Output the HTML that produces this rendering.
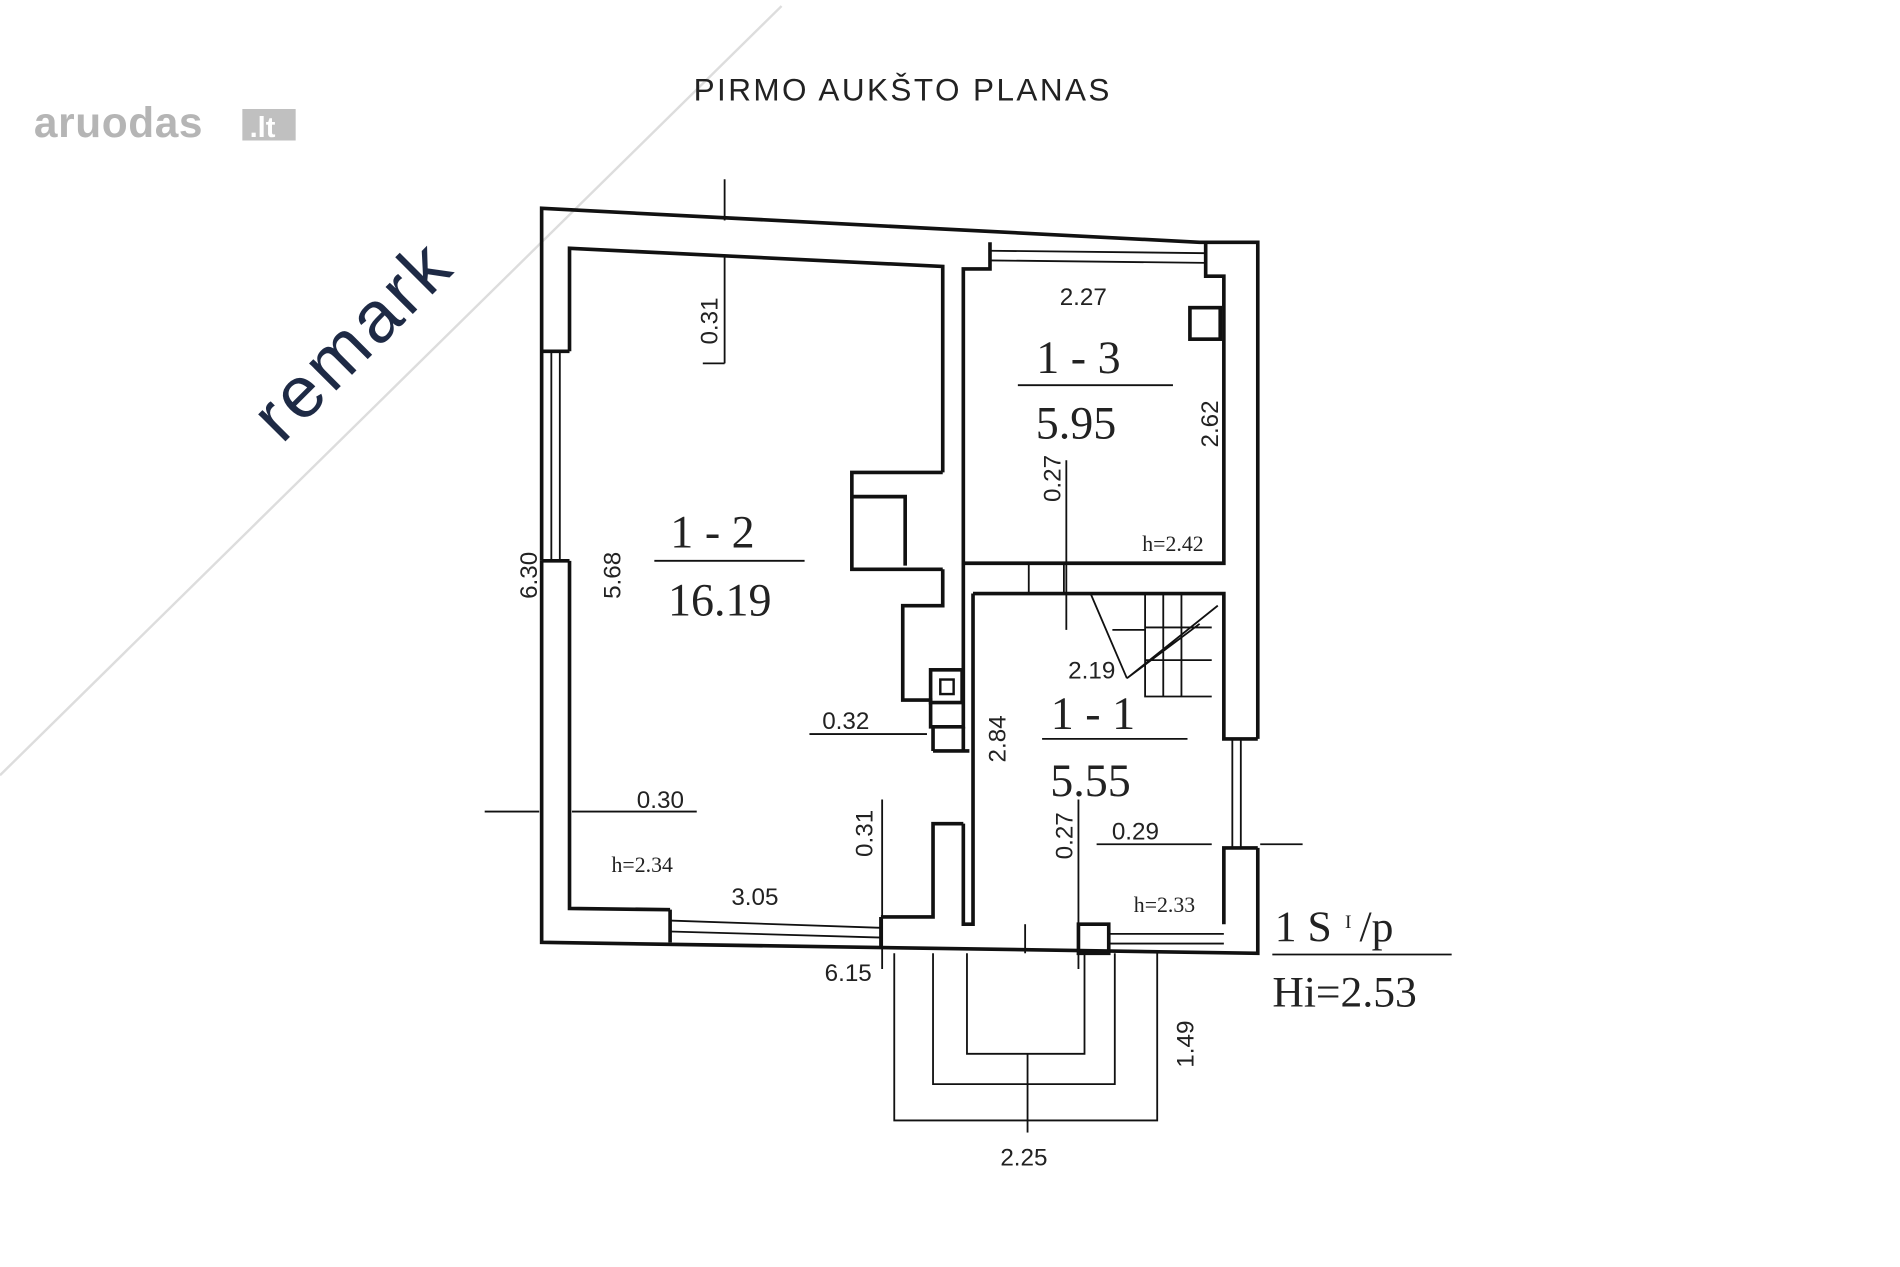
<!DOCTYPE html>
<html><head><meta charset="utf-8"><style>html,body{margin:0;padding:0;background:#fff}svg{display:block}</style></head>
<body>
<svg width="1900" height="1267" viewBox="0 0 1568 1046" preserveAspectRatio="none" xmlns="http://www.w3.org/2000/svg">
<rect width="1568" height="1046" fill="#fff"/>
<line x1="645" y1="5" x2="0" y2="640" stroke="#ddd" stroke-width="2"/>
<text x="28" y="113" font-family="Liberation Sans, sans-serif" font-size="35" font-weight="bold" letter-spacing="0.5" fill="#b5b5b5">aruodas</text>
<rect x="200" y="90" width="44" height="26" fill="#c0c0c0"/>
<text x="206" y="113" font-family="Liberation Sans, sans-serif" font-size="24" font-weight="bold" fill="#fff">.lt</text>
<text x="305" y="295" transform="rotate(-45 305 295)" text-anchor="middle" font-family="Liberation Sans, sans-serif" font-size="60" letter-spacing="3" fill="#1e2a45">remark</text>
<text x="745" y="83" text-anchor="middle" font-family="Liberation Sans, sans-serif" font-size="26" letter-spacing="2" fill="#222">PIRMO AUKŠTO PLANAS</text>
<g fill="none" stroke="#111" stroke-width="3">
<path d="M447 463 L447 172 L990 200 L1038 200 L1038 610"/>
<path d="M1038 700 L1038 787 L447 778 L447 463"/>
<path d="M470 290 L470 205 L778 220 L778 390"/>
<path d="M470 463 L470 750 L553 751"/>
<path d="M727 757 L770 757 L770 680 L795 680"/>
<path d="M447 290 L470 290 M447 463 L470 463" />
<g stroke-width="1.5"><line x1="455" y1="290" x2="455" y2="463"/><line x1="462" y1="290" x2="462" y2="463"/></g>
<path d="M553 751 L553 778 M727 757 L727 782"/>
<g stroke-width="1.5"><line x1="553" y1="760" x2="727" y2="766"/><line x1="553" y1="769" x2="727" y2="774"/></g>
<path d="M817 200 L817 222 L795 222 L795 465 L1010 465 L1010 228 L995 228 L995 200"/>
<g stroke-width="1.5"><line x1="817" y1="207" x2="995" y2="209"/><line x1="817" y1="215" x2="995" y2="217"/></g>
<rect x="982" y="254" width="25" height="26"/>
<path d="M795 465 L795 490 M803 490 L1010 490 L1010 610 L1038 610 M1010 700 L1038 700 L1010 700 L1010 763"/>
<g stroke-width="1.5"><line x1="1017" y1="610" x2="1017" y2="700"/><line x1="1024" y1="610" x2="1024" y2="700"/><line x1="849" y1="465" x2="849" y2="490"/><line x1="878" y1="465" x2="878" y2="490"/></g>
<path d="M778 390 L703 390 L703 470 L778 470 M703 410 L747 410 L747 467"/>
<path d="M778 470 L778 500 L745 500 L745 578 L768 578 L768 600 L795 600 L795 490"/>
<rect x="768" y="553" width="26" height="27"/>
<rect x="776" y="561" width="11" height="12" stroke-width="2"/>
<line x1="795" y1="600" x2="795" y2="620"/><line x1="770" y1="620" x2="800" y2="620"/>
<line x1="770" y1="600" x2="770" y2="620"/>
<g stroke-width="1.5"><path d="M900 490 L930 560 M945 490 L945 575 L1000 575 M960 490 L960 575 M975 490 L975 575 M945 518 L1000 518 M945 545 L1000 545 M930 560 L1005 500 M930 560 L990 515 M918 520 L945 520"/></g>
<path d="M795 680 L795 763 L803 763 L803 490"/>
<path d="M890 763 L915 763 L915 787 L890 787 Z"/>
<g stroke-width="1.5"><line x1="915" y1="771" x2="1010" y2="771"/><line x1="915" y1="779" x2="1010" y2="779"/><line x1="846" y1="763" x2="846" y2="787"/></g>
<g stroke-width="1.5"><path d="M738 787 L738 925 L955 925 L955 787 M770 787 L770 895 L920 895 L920 787 M798 787 L798 870 L895 870 L895 787"/>
<line x1="848" y1="870" x2="848" y2="935"/>
<line x1="598" y1="148" x2="598" y2="182"/><line x1="598" y1="212" x2="598" y2="300"/>
<line x1="598" y1="300" x2="580" y2="300"/>
<line x1="400" y1="670" x2="445" y2="670"/><line x1="472" y1="670" x2="575" y2="670"/>
<line x1="668" y1="606" x2="765" y2="606"/>
<line x1="728" y1="660" x2="728" y2="800"/>
<line x1="880" y1="380" x2="880" y2="520"/>
<line x1="890" y1="660" x2="890" y2="800"/>
<line x1="905" y1="697" x2="1000" y2="697"/><line x1="1040" y1="697" x2="1075" y2="697"/>
<line x1="540" y1="463" x2="664" y2="463"/><line x1="840" y1="318" x2="968" y2="318"/>
<line x1="860" y1="610" x2="980" y2="610"/>
<line x1="1050" y1="788" x2="1198" y2="788"/>
</g>
</g>
<g font-family="Liberation Sans, sans-serif" font-size="20" fill="#222">
<text x="894" y="252" text-anchor="middle">2.27</text>
<text x="592" y="265" transform="rotate(-90 592 265)" text-anchor="middle">0.31</text>
<text x="1005" y="350" transform="rotate(-90 1005 350)" text-anchor="middle">2.62</text>
<text x="875" y="395" transform="rotate(-90 875 395)" text-anchor="middle">0.27</text>
<text x="443" y="475" transform="rotate(-90 443 475)" text-anchor="middle">6.30</text>
<text x="512" y="475" transform="rotate(-90 512 475)" text-anchor="middle">5.68</text>
<text x="901" y="560" text-anchor="middle">2.19</text>
<text x="698" y="602" text-anchor="middle">0.32</text>
<text x="830" y="610" transform="rotate(-90 830 610)" text-anchor="middle">2.84</text>
<text x="545" y="667" text-anchor="middle">0.30</text>
<text x="720" y="688" transform="rotate(-90 720 688)" text-anchor="middle">0.31</text>
<text x="885" y="690" transform="rotate(-90 885 690)" text-anchor="middle">0.27</text>
<text x="937" y="693" text-anchor="middle">0.29</text>
<text x="623" y="747" text-anchor="middle">3.05</text>
<text x="700" y="810" text-anchor="middle">6.15</text>
<text x="985" y="862" transform="rotate(-90 985 862)" text-anchor="middle">1.49</text>
<text x="845" y="962" text-anchor="middle">2.25</text>
</g>
<g font-family="Liberation Serif, serif" fill="#222">
<text x="890" y="308" text-anchor="middle" font-size="38">1 - 3</text>
<text x="888" y="362" text-anchor="middle" font-size="38">5.95</text>
<text x="588" y="452" text-anchor="middle" font-size="38">1 - 2</text>
<text x="594" y="508" text-anchor="middle" font-size="38">16.19</text>
<text x="902" y="602" text-anchor="middle" font-size="38">1 - 1</text>
<text x="900" y="657" text-anchor="middle" font-size="38">5.55</text>
<text x="968" y="455" text-anchor="middle" font-size="18">h=2.42</text>
<text x="530" y="720" text-anchor="middle" font-size="18">h=2.34</text>
<text x="961" y="753" text-anchor="middle" font-size="18">h=2.33</text>
<text x="1052" y="777" font-size="36">1 S</text>
<text x="1110" y="766" font-size="16">I</text>
<text x="1122" y="777" font-size="36">/p</text>
<text x="1050" y="831" font-size="36">Hi=2.53</text>
</g>
</svg>
</body></html>
